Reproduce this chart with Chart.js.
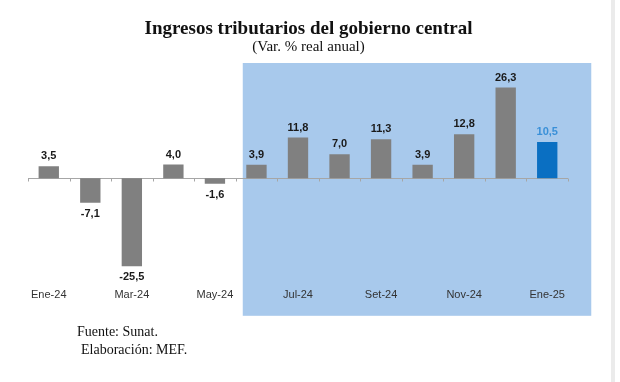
<!DOCTYPE html>
<html>
<head>
<meta charset="utf-8">
<script src="https://cdn.jsdelivr.net/npm/chart.js@4/dist/chart.umd.min.js"></script>
<style>
  html, body { margin: 0; padding: 0; background: #ffffff; }
  #wrap { position: relative; width: 620px; height: 382px; overflow: hidden; }
  #c { position: absolute; left: 0; top: 0; }
  .t { position: absolute; font-family: "Liberation Serif", "Times New Roman", serif; color: #111; white-space: nowrap; }
  #title { left: 0; width: 617px; text-align: center; top: 17px; font-size: 19px; font-weight: bold; }
  #sub { left: 0; width: 617px; text-align: center; top: 38px; font-size: 15px; }
  #f1 { left: 77px; top: 324px; font-size: 14px; }
  #f2 { left: 81px; top: 342px; font-size: 14px; }
  #edge { position: absolute; left: 611px; top: 0; width: 4px; height: 382px; background: #ebebeb; }
</style>
</head>
<body>
<div id="wrap">
  <canvas id="c" width="620" height="382"></canvas>
  <div class="t" id="title">Ingresos tributarios del gobierno central</div>
  <div class="t" id="sub">(Var. % real anual)</div>
  <div class="t" id="f1">Fuente: Sunat.</div>
  <div class="t" id="f2">Elaboración: MEF.</div>
  <div id="edge"></div>
</div>
<script>
const categories = ["Ene-24","Feb-24","Mar-24","Abr-24","May-24","Jun-24","Jul-24","Ago-24","Set-24","Oct-24","Nov-24","Dic-24","Ene-25"];
const values = [3.5, -7.1, -25.5, 4.0, -1.6, 3.9, 11.8, 7.0, 11.3, 3.9, 12.8, 26.3, 10.5];
const shownTickLabels = ["Ene-24","Mar-24","May-24","Jul-24","Set-24","Nov-24","Ene-25"];
const highlightFrom = "Jun-24";

const barColors = categories.map((c, i) => i === categories.length - 1 ? "#0a6fc2" : "#808080");
const labelColors = categories.map((c, i) => i === categories.length - 1 ? "#3a90d8" : "#1a1a1a");

const bgPlugin = {
  id: "bgRect",
  beforeDraw(chart) {
    const { ctx, chartArea, scales } = chart;
    const x = scales.x;
    const w = x.getPixelForValue(1) - x.getPixelForValue(0);
    const i0 = categories.indexOf(highlightFrom);
    const left = x.getPixelForValue(i0) - 0.33 * w;
    const right = x.getPixelForValue(categories.length - 1) + 1.06 * w;
    const top = chartArea.top + 2;
    const bottom = chartArea.bottom + 34;
    ctx.save();
    ctx.fillStyle = "#a8c9ec";
    ctx.fillRect(left, top, right - left, bottom - top);
    ctx.restore();
  },
  beforeDatasetsDraw(chart) {
    const { ctx, chartArea, scales } = chart;
    const x = scales.x;
    const w = x.getPixelForValue(1) - x.getPixelForValue(0);
    const y0 = Math.round(scales.y.getPixelForValue(0)) + 0.5;
    ctx.save();
    ctx.strokeStyle = "#a6a6a6";
    ctx.lineWidth = 1;
    ctx.beginPath();
    ctx.moveTo(chartArea.left, y0);
    ctx.lineTo(chartArea.right, y0);
    for (let i = 0; i <= categories.length; i++) {
      const px = Math.round(chartArea.left + i * w) + 0.5;
      ctx.moveTo(px, y0);
      ctx.lineTo(px, y0 + 3);
    }
    ctx.stroke();
    ctx.restore();
  },
  afterDatasetsDraw(chart) {
    const { ctx } = chart;
    const meta = chart.getDatasetMeta(0);
    ctx.save();
    ctx.font = "bold 11px 'Liberation Sans', Arial, sans-serif";
    ctx.textAlign = "center";
    ctx.textBaseline = "middle";
    meta.data.forEach((bar, i) => {
      const v = values[i];
      const txt = v.toFixed(1).replace(".", ",");
      ctx.fillStyle = labelColors[i];
      const y = v >= 0 ? bar.y - 10 : bar.y + 11;
      ctx.fillText(txt, bar.x, y);
    });
    ctx.restore();
  }
};

new Chart(document.getElementById("c"), {
  type: "bar",
  data: {
    labels: categories,
    datasets: [{
      data: values,
      backgroundColor: barColors,
      borderWidth: 0,
      categoryPercentage: 1.0,
      barPercentage: 0.49
    }]
  },
  options: {
    responsive: false,
    animation: false,
    events: [],
    layout: { padding: { left: 28, right: 52, top: 61, bottom: 73 } },
    plugins: { legend: { display: false }, tooltip: { enabled: false }, title: { display: false } },
    scales: {
      x: {
        grid: { display: false, drawTicks: false },
        border: { display: false },
        ticks: {
          autoSkip: false,
          maxRotation: 0,
          padding: 7,
          color: "#333333",
          font: { family: "'Liberation Sans', Arial, sans-serif", size: 11 },
          callback: function (val, idx) {
            const l = categories[idx];
            return shownTickLabels.includes(l) ? l : "";
          }
        }
      },
      y: {
        display: false,
        min: -30,
        max: 34
      }
    }
  },
  plugins: [bgPlugin]
});
</script>
</body>
</html>
